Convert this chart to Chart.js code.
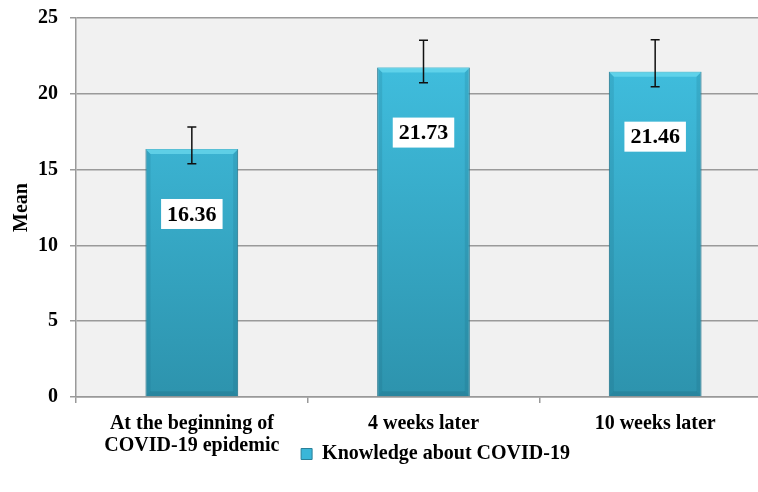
<!DOCTYPE html>
<html>
<head>
<meta charset="utf-8">
<script src="https://cdn.jsdelivr.net/npm/chart.js@4/dist/chart.umd.min.js"></script>
<style>
  html, body { margin: 0; padding: 0; background: #fff; overflow: hidden; }
  #wrap { width: 780px; height: 492px; position: relative; }
</style>
</head>
<body>
<div id="wrap"><canvas id="meanChart"></canvas></div>
<script>
// data
const categories = [['At the beginning of', 'COVID-19 epidemic'], '4 weeks later', '10 weeks later'];
const meanValues = [16.36, 21.73, 21.46];
const errorPlus = [1.45, 1.8, 2.1];
const errorMinus = [0.98, 1.0, 1.0];
const yTicks = [0, 5, 10, 15, 20, 25];
const seriesName = 'Knowledge about COVID-19';

Chart.defaults.font.family = "'Liberation Serif', 'Times New Roman', serif";
Chart.defaults.font.weight = 'bold';
Chart.defaults.font.size = 20;
Chart.defaults.color = '#000';

// grey plot area
const plotBackground = {
    id: 'plotBackground',
    beforeDraw(chart) {
        const { ctx, chartArea: a } = chart;
        ctx.save();
        ctx.fillStyle = '#f1f1f1';
        ctx.fillRect(a.left, a.top, a.right - a.left, a.bottom - a.top);
        ctx.restore();
    }
};

// move the legend up and right, where it sits in the original
const legendShift = {
    id: 'legendShift',
    afterLayout(chart) {
        const lg = chart.legend;
        if (!lg) return;
        const dy = lg.top - 441;
        lg.top -= dy;
        lg.bottom -= dy;
        lg.left += 50;
        lg.right += 50;
    }
};

// bevel look on the bars (top highlight, darker sides)
const barBevel = {
    id: 'barBevel',
    afterDatasetsDraw(chart) {
        const ctx = chart.ctx;
        chart.getDatasetMeta(0).data.forEach(bar => {
            const l = bar.x - bar.width / 2, r = bar.x + bar.width / 2;
            const t = bar.y, b = bar.base, d = 5;
            ctx.save();
            ctx.fillStyle = 'rgba(110,220,240,0.7)';
            ctx.beginPath();
            ctx.moveTo(l, t); ctx.lineTo(r, t); ctx.lineTo(r - d, t + d); ctx.lineTo(l + d, t + d);
            ctx.closePath(); ctx.fill();
            ctx.fillStyle = 'rgba(20,90,110,0.15)';
            ctx.beginPath();
            ctx.moveTo(l, t); ctx.lineTo(l + d, t + d); ctx.lineTo(l + d, b - d); ctx.lineTo(l, b);
            ctx.closePath(); ctx.fill();
            ctx.beginPath();
            ctx.moveTo(r, t); ctx.lineTo(r - d, t + d); ctx.lineTo(r - d, b - d); ctx.lineTo(r, b);
            ctx.closePath(); ctx.fill();
            ctx.fillStyle = 'rgba(20,80,100,0.2)';
            ctx.beginPath();
            ctx.moveTo(l, b); ctx.lineTo(l + d, b - d); ctx.lineTo(r - d, b - d); ctx.lineTo(r, b);
            ctx.closePath(); ctx.fill();
            ctx.restore();
        });
    }
};

// error bars and boxed value labels
const errorBarsAndLabels = {
    id: 'errorBarsAndLabels',
    afterDatasetsDraw(chart) {
        const ctx = chart.ctx;
        const y = chart.scales.y;
        chart.getDatasetMeta(0).data.forEach((bar, i) => {
            const v = meanValues[i];
            const yTop = y.getPixelForValue(v + errorPlus[i]);
            const yBot = y.getPixelForValue(v - errorMinus[i]);
            ctx.save();
            ctx.strokeStyle = '#111';
            ctx.lineWidth = 1.5;
            ctx.beginPath();
            ctx.moveTo(bar.x, yTop); ctx.lineTo(bar.x, yBot);
            ctx.moveTo(bar.x - 4.5, yTop); ctx.lineTo(bar.x + 4.5, yTop);
            ctx.moveTo(bar.x - 4.5, yBot); ctx.lineTo(bar.x + 4.5, yBot);
            ctx.stroke();

            const cy = bar.y + 65;
            ctx.font = "bold 22px 'Liberation Serif', serif";
            const txt = v.toFixed(2);
            const w = ctx.measureText(txt).width + 12;
            ctx.fillStyle = '#fff';
            ctx.fillRect(bar.x - w / 2, cy - 15, w, 30);
            ctx.fillStyle = '#000';
            ctx.textAlign = 'center';
            ctx.textBaseline = 'middle';
            ctx.fillText(txt, bar.x, cy + 1);
            ctx.restore();
        });
    }
};

const ctx = document.getElementById('meanChart').getContext('2d');
new Chart(ctx, {
    type: 'bar',
    data: {
        labels: categories,
        datasets: [{
            label: seriesName,
            data: meanValues,
            backgroundColor: (c) => {
                const a = c.chart.chartArea;
                if (!a) return '#37acd0';
                const g = c.chart.ctx.createLinearGradient(0, a.top, 0, a.bottom);
                g.addColorStop(0, '#42c3e4');
                g.addColorStop(1, '#2d93ad');
                return g;
            },
            borderColor: '#2a8099',
            borderWidth: 1,
            barPercentage: 0.4,
            categoryPercentage: 1.0
        }]
    },
    options: {
        responsive: true,
        maintainAspectRatio: false,
        animation: false,
        layout: { padding: { left: 0, right: 9, top: 18, bottom: 0 } },
        plugins: {
            legend: {
                position: 'bottom',
                labels: {
                    boxWidth: 11,
                    boxHeight: 11,
                    padding: 3,
                    color: '#000',
                    font: { size: 20, weight: 'bold' },
                    generateLabels: (chart) => {
                        const items = Chart.defaults.plugins.legend.labels.generateLabels(chart);
                        items.forEach(it => { it.fillStyle = '#3ab6d8'; it.strokeStyle = '#2a8099'; it.lineWidth = 1; });
                        return items;
                    }
                }
            },
            tooltip: { enabled: false }
        },
        scales: {
            x: {
                afterFit: (s) => { s.height = 62; },
                grid: { display: true, drawOnChartArea: false, color: '#999', lineWidth: 1.5, tickLength: 6 },
                border: { color: '#999', width: 1.5 },
                ticks: { padding: 10, font: { size: 20, weight: 'bold', lineHeight: 1.1 }, color: '#000' }
            },
            y: {
                min: 0,
                max: 25,
                afterBuildTicks: (s) => { s.ticks = yTicks.map(v => ({ value: v })); },
                afterFit: (s) => { s.width = 76; s.paddingTop = 0; s.paddingBottom = 0; },
                grid: { color: '#9a9a9a', lineWidth: 1.5, tickLength: 6 },
                border: { color: '#9a9a9a', width: 1.5 },
                ticks: { padding: 12, font: { size: 20, weight: 'bold' }, color: '#000' },
                title: { display: true, text: 'Mean', font: { size: 20, weight: 'bold' }, color: '#000', padding: { top: 10, bottom: 0 } }
            }
        }
    },
    plugins: [plotBackground, legendShift, barBevel, errorBarsAndLabels]
});
</script>
</body>
</html>
